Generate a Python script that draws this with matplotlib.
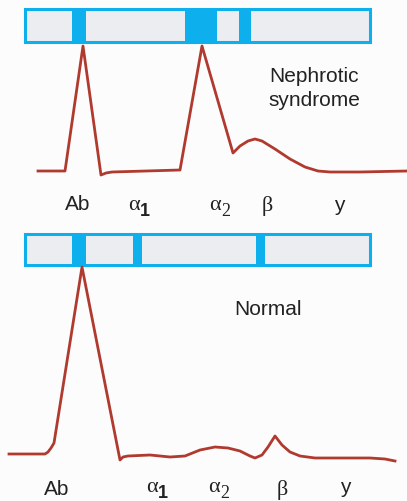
import matplotlib
matplotlib.use('Agg')
import matplotlib.pyplot as plt
from matplotlib.patches import Rectangle
import numpy as np

# densitometry traces (x position, height in px from top)
top_x = [38, 65, 83, 101, 106, 112, 180, 202, 233, 240, 248, 255, 262, 275, 290, 305, 318, 330, 360, 407]
top_y = [172, 172, 47, 176, 174, 173, 171, 47, 154, 147, 142, 140, 142, 150, 160, 168, 172, 173, 173, 172]

bottom_x = [9, 45, 48, 51, 54, 82, 120, 123, 128, 150, 170, 185, 200, 215, 228, 240, 250, 255,
            262, 268, 275, 282, 290, 300, 315, 330, 370, 385, 395]
bottom_y = [455, 455, 453, 449, 444, 268, 461, 458, 457, 456, 458, 457, 451, 448, 449, 452, 457, 459,
            456, 448, 437, 446, 453, 457, 459, 459, 459, 460, 462]

# electrophoresis strip: (outer box, list of band spans)
strip_top = (25, 370, 10, 43)
bands_top = [(72, 86), (185, 217), (239, 251)]
strip_bottom = (25, 370, 235, 266)
bands_bottom = [(72, 86), (133, 142), (256, 265)]

# fraction labels: (name, subscript, x, y)
labels_top = [('Ab', '', 78, 205), ('α', '1', 134, 206), ('α', '2', 215, 206),
              ('β', '', 267, 206), ('y', '', 339, 206)]
labels_bottom = [('Ab', '', 57, 490), ('α', '1', 152, 488), ('α', '2', 214, 488),
                 ('β', '', 282, 490), ('y', '', 345, 488)]

red = '#B03A2E'
cyan = '#0DB0EC'
grey = '#ECEDF0'
ink = '#222222'


def draw_strip(ax, box, bands):
    x0, x1, y0, y1 = box
    ax.add_patch(Rectangle((x0, y0), x1 - x0, y1 - y0, facecolor=grey,
                           edgecolor=cyan, linewidth=2.2))
    for b0, b1 in bands:
        ax.add_patch(Rectangle((b0, y0), b1 - b0, y1 - y0, facecolor=cyan,
                               edgecolor='none'))


def draw_labels(ax, labels):
    for name, sub, x, y in labels:
        if name in ('α', 'β'):
            ax.text(x, y, name, fontsize=16, family='Liberation Serif',
                    ha='center', va='center', color=ink)
        else:
            ax.text(x, y, name, fontsize=15, family='Liberation Sans',
                    ha='center', va='center', color=ink)
        if sub == '1':
            ax.text(x + 6, y + 6, sub, fontsize=13, family='Liberation Sans',
                    weight='bold', ha='left', va='center', color=ink)
        elif sub == '2':
            ax.text(x + 6, y + 6, sub, fontsize=13, family='Liberation Serif',
                    ha='left', va='center', color=ink)


fig = plt.figure(figsize=(4.07, 5.02), dpi=100)
fig.patch.set_facecolor('#FCFCFD')
ax = fig.add_axes([0, 0, 1, 1])
ax.set_xlim(0, 407)
ax.set_ylim(502, 0)
ax.axis('off')

draw_strip(ax, strip_top, bands_top)
draw_strip(ax, strip_bottom, bands_bottom)

ax.plot(top_x, top_y, color=red, linewidth=2.0, solid_joinstyle='round')
ax.plot(bottom_x, bottom_y, color=red, linewidth=2.0, solid_joinstyle='round')

draw_labels(ax, labels_top)
draw_labels(ax, labels_bottom)

ax.text(314, 77, 'Nephrotic', fontsize=15, family='Liberation Sans',
        ha='center', va='center', color=ink)
ax.text(314, 100, 'syndrome', fontsize=15, family='Liberation Sans',
        ha='center', va='center', color=ink)
ax.text(268, 310, 'Normal', fontsize=15, family='Liberation Sans',
        ha='center', va='center', color=ink)

fig.savefig('out.png', dpi=100, facecolor=fig.get_facecolor())
